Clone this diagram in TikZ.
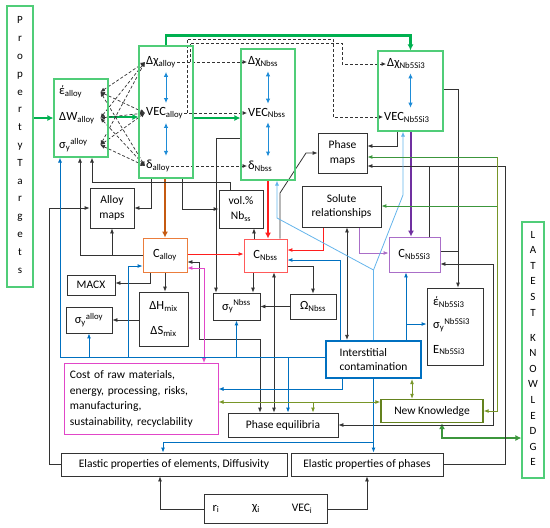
\documentclass[tikz,border=0pt]{standalone}
\usepackage{fontspec}
\setmainfont{Carlito}
\usetikzlibrary{arrows.meta,backgrounds}
\definecolor{gbord}{RGB}{80,205,120}
\definecolor{gthick}{RGB}{0,176,80}
\definecolor{orng}{RGB}{235,125,60}
\definecolor{brn}{RGB}{197,90,17}
\definecolor{rd}{RGB}{255,30,30}
\definecolor{rdb}{RGB}{255,90,90}
\definecolor{purp}{RGB}{112,48,160}
\definecolor{purpb}{RGB}{170,110,200}
\definecolor{mag}{RGB}{225,70,200}
\definecolor{blu}{RGB}{0,112,192}
\definecolor{bluem}{RGB}{30,140,215}
\definecolor{lblu}{RGB}{100,180,235}
\definecolor{oliv}{RGB}{120,150,40}
\definecolor{nkc}{RGB}{100,130,30}
\definecolor{grn}{RGB}{60,150,60}
\newcommand\sbx[1]{\textsubscript{#1}}
\newcommand\spx[1]{\textsuperscript{#1}}
\begin{document}
\begin{tikzpicture}[x=1pt,y=-1pt,
  font=\fontsize{11.5}{14.5}\selectfont,
  big/.style={font=\fontsize{12.5}{15}\selectfont},
  box/.style={draw=black!80, line width=0.8pt, fill=white, inner sep=1pt, align=center},
  gframe/.style={draw=gbord, line width=1.1pt},
  txt/.style={inner sep=1pt, anchor=west, big},
  txtL/.style={inner sep=1pt, anchor=west, text width=40pt, align=left, big},
  vtext/.style={inner sep=0pt, align=center, font=\fontsize{11}{17.8}\selectfont},
  conn/.style={draw=black!80, line width=0.8pt},
  arr/.style={conn, -{Latex[length=5pt,width=4pt]}},
  arr2/.style={conn, {Latex[length=5pt,width=4pt]}-{Latex[length=5pt,width=4pt]}},
  darr/.style={draw=black!80, line width=0.7pt, dash pattern=on 3pt off 2pt, -{Latex[length=4.5pt,width=4pt]}},
  ddarr/.style={draw=black!80, line width=0.7pt, dash pattern=on 3pt off 2pt, {Latex[length=4.5pt,width=4pt]}-{Latex[length=4.5pt,width=4pt]}},
  bdd/.style={draw=bluem, line width=1pt, {Latex[length=5pt,width=4.5pt]}-{Latex[length=5pt,width=4.5pt]}, shorten >=3pt, shorten <=3pt},
  tk/.style={line width=2.2pt, -{Latex[length=6pt,width=6pt]}},
  tk2/.style={line width=2.2pt, {Latex[length=6pt,width=6pt]}-{Latex[length=6pt,width=6pt]}},
  blarr/.style={draw=blu, line width=0.9pt, -{Latex[length=5pt,width=4pt]}},
  lbarr/.style={draw=lblu, line width=0.8pt, -{Latex[length=5pt,width=4pt]}},
  rarr/.style={draw=rd, line width=0.9pt, -{Latex[length=5pt,width=4pt]}},
  parr/.style={draw=purpb, line width=0.9pt, -{Latex[length=5pt,width=4pt,fill=purp]}},
  marr2/.style={draw=mag, line width=0.9pt, {Latex[length=5pt,width=4pt]}-{Latex[length=5pt,width=4pt]}},
  oarr/.style={draw=oliv, line width=0.9pt, -{Latex[length=5pt,width=4pt]}},
  o2arr/.style={draw=oliv, line width=0.9pt, {Latex[length=5pt,width=4pt]}-{Latex[length=5pt,width=4pt]}},
  grarr/.style={draw=grn, line width=0.9pt, -{Latex[length=5pt,width=4pt]}},
]
\useasboundingbox (0,0) rectangle (550,528);

% ---------- green frames ----------
\node[gframe, minimum width=26pt, minimum height=281pt] (PT) at (20,146.5) {};
\node[vtext] (ptt) at (20,145) {P\\r\\o\\p\\e\\r\\t\\y\\T\\a\\r\\g\\e\\t\\s};
\node[gframe, minimum width=54pt, minimum height=78pt] (alloyP) at (81,118) {};
\node[gframe, minimum width=54pt, minimum height=132pt] (alloyC) at (166,112) {};
\node[gframe, minimum width=54pt, minimum height=131pt] (nbss) at (268,114.5) {};
\node[gframe, minimum width=65pt, minimum height=80pt] (nb5) at (410.5,91) {};
\node[gframe, minimum width=22pt, minimum height=256pt] (LK) at (533,350) {};
\node[vtext, font=\fontsize{11}{15.6}\selectfont] (lk1) at (533,273.5) {L\\A\\T\\E\\S\\T};
\node[vtext, font=\fontsize{11}{15.6}\selectfont] (lk2) at (533,400) {K\\N\\O\\W\\L\\E\\D\\G\\E};

% texts inside frames
\node[txtL] (epsa) at (58,92) {έ\sbx{alloy}};
\node[txtL] (dwa) at (58,118) {ΔW\sbx{alloy}};
\node[txtL] (sya1) at (58,145) {σ\sbx{y}\spx{alloy}};
\node[txt] (dchia) at (145,62) {Δχ\sbx{alloy}};
\node[txt] (veca) at (145,113) {VEC\sbx{alloy}};
\node[txt] (dela) at (145,166) {δ\sbx{alloy}};
\node[txt] (dchin) at (247,62) {Δχ\sbx{Nbss}};
\node[txt] (vecn) at (247,113) {VEC\sbx{Nbss}};
\node[txt] (deln) at (247,166) {δ\sbx{Nbss}};
\node[txt] (dchin5) at (386,64) {Δχ\sbx{Nb5Si3}};
\node[txt] (vecn5) at (383,117) {VEC\sbx{Nb5Si3}};

% ---------- boxes ----------
\node[box, minimum width=49pt, minimum height=40pt] (pmaps) at (342.5,153) {Phase\\maps};
\node[box, minimum width=79pt, minimum height=41pt] (solute) at (341.5,206.5) {Solute\\relationships};
\node[box, minimum width=44pt, minimum height=40pt] (amaps) at (112,208) {Alloy\\maps};
\node[box, minimum width=44pt, minimum height=38pt] (vol) at (241,209) {vol.\%\\Nb\sbx{ss}};
\node[box, big, draw=orng, minimum width=44pt, minimum height=34pt] (calloy) at (165,255) {C\sbx{alloy}};
\node[box, big, draw=rdb, minimum width=43pt, minimum height=33pt] (cnbss) at (265.5,255.5) {C\sbx{Nbss}};
\node[box, big, draw=purpb, minimum width=51pt, minimum height=35pt] (cnb5) at (414.5,254.5) {C\sbx{Nb5Si3}};
\node[box, minimum width=48pt, minimum height=20pt] (macx) at (91,285) {MACX};
\node[box, big, minimum width=49pt, minimum height=54pt] (dh) at (163.5,319) {ΔH\sbx{mix}\\[10pt]ΔS\sbx{mix}};
\node[box, big, minimum width=46pt, minimum height=26pt] (sya) at (89,320) {σ\sbx{y}\spx{alloy}};
\node[box, big, minimum width=47pt, minimum height=27pt] (synb) at (236.5,306.5) {σ\sbx{y}\spx{Nbss}};
\node[box, big, minimum width=46pt, minimum height=25pt] (omega) at (313,306.5) {Ω\sbx{Nbss}};
\node[box, minimum width=56pt, minimum height=77pt] (props5) at (455,326.5) {};
\node[txt] (epsn5) at (432,302) {έ\sbx{Nb5Si3}};
\node[txt] (syn5) at (432,325) {σ\sbx{y}\spx{Nb5Si3}};
\node[txt] (en5) at (432,350) {E\sbx{Nb5Si3}};
\node[box, draw=blu, line width=2.2pt, minimum width=95pt, minimum height=37pt, align=left] (inter) at (373.5,359.5) {Interstitial\\contamination};
\node[box, draw=mag, line width=1pt, text width=142pt, minimum height=71pt, inner xsep=6pt, align=left, font=\fontsize{11.5}{15.7}\selectfont] (cost) at (141,399) {Cost of raw materials,\\energy, processing, risks,\\manufacturing,\\sustainability, recyclability};
\node[box, minimum width=110pt, minimum height=24pt] (peq) at (283,425) {Phase equilibria};
\node[box, draw=nkc, line width=1.3pt, minimum width=102pt, minimum height=23pt] (nk) at (432,411) {New Knowledge};
\node[box, minimum width=226pt, minimum height=23pt] (ele) at (174,464.5) {Elastic properties of elements, Diffusivity};
\node[box, minimum width=152pt, minimum height=23pt] (elp) at (367,464.5) {Elastic properties of phases};
\node[box, minimum width=123pt, minimum height=29pt] (ri) at (265.5,509) {};
\node[big] (rr) at (216,509) {r\sbx{i}};
\node[big] (rc) at (256,509) {χ\sbx{i}};
\node (rv) at (302,509) {VEC\sbx{i}};

% ---------- connectors ----------
\begin{scope}[on background layer]
% thick
\draw[tk, draw=gthick] (PT.east |- alloyP.west) -- (alloyP.west);
\draw[tk, draw=gthick] (alloyP.east |- 0,117) -- (alloyC.west |- 0,117);
\draw[tk, draw=gthick] (alloyC.east |- 0,118) -- (nbss.west |- 0,118);
\draw[tk, draw=gthick] (alloyC.north) -- ++(0,-10) -| (nb5.north);
\draw[tk, draw=brn] (alloyC.south -| calloy.north) -- (calloy.north);
\draw[tk, draw=rd] (nbss.south) -- (cnbss.north -| nbss.south);
\draw[tk, draw=purp] (nb5.south -| 411,0) -- (cnb5.north -| 411,0);
\draw[tk2, draw=grn] (nk.south -| 442,0) |- (LK.west |- 0,438);

% dashed
\foreach \a in {epsa,dwa,sya1} \foreach \b in {dchia,veca,dela} \draw[ddarr] (\a.east) -- (\b.west);
\draw[darr] (dchia.east) -- (dchin.west);
\draw[darr] (veca.east) -- (vecn.west);
\draw[darr] (dela.east) -- (deln.west);
\draw[darr] (veca.east -| 187,0) |- (333,39) |- (vecn5.west);
\draw[darr] (dchia.east -| 190,0) |- (342,43) |- (dchin5.west);

% blue inside frames
\draw[bdd] (dchia.south -| alloyC.center) -- (veca.north -| alloyC.center);
\draw[bdd] (veca.south -| alloyC.center) -- (dela.north -| alloyC.center);
\draw[bdd] (dchin.south -| nbss.center) -- (vecn.north -| nbss.center);
\draw[bdd] (vecn.south -| nbss.center) -- (deln.north -| nbss.center);
\draw[bdd] (dchin5.south -| nb5.center) -- (vecn5.north -| nb5.center);

% black
\draw[arr] (vol.north -| 230,0) |- (92,182) -- (alloyP.south -| 92,0);
\draw[arr] (calloy.west) -| (alloyP.south -| 80,0);
\draw[arr] (amaps.south |- calloy.west) -- (amaps.south);
\draw[arr] (alloyC.south -| 151,0) |- (amaps.east);
\draw[arr] (ele.west) -- ++(-11,0) |- (amaps.west);
\draw[arr] (alloyC.south -| 182,0) |- (vol.west);
\draw[arr] (nbss.west |- 0,138) -| (synb.north -| 216,0);
\draw[arr] (cnbss.north -| 254,0) -- (vol.south -| 254,0);
\draw[arr] (cnbss.south -| 253,0) -- (synb.north -| 253,0);
\draw[arr] (cnbss.east |- 0,266) -| (omega.north);
\draw[arr] (omega.west) -- (synb.east);
\draw[arr] (cnbss.north -| 280,0) -- (280,193) -- (306,153) -- (pmaps.west);
\draw[arr] (nb5.south -| 397,0) |- (pmaps.east |- 0,146);
\draw[arr] (cnb5.north -| 429,0) |- (pmaps.east |- 0,166);
\draw[conn] (elp.east) -| (505,166) -- (429,166);
\draw[arr] (nb5.east |- 0,89) -| (props5.north -| 458,0);
\draw[conn] (cnb5.east |- 0,251) -- (458,251);
\draw[arr2] (peq.east) -| (493,264) -- (cnb5.east |- 0,264);
\draw[arr2] (solute.south -| 347,0) -- (inter.north -| 347,0);
\draw[arr] (calloy.south -| 150,0) |- (macx.east |- 0,283);
\draw[arr] (calloy.south -| 165,0) -- (dh.north -| 165,0);
\draw[arr] (dh.west |- 0,320) -- (sya.east);
\draw[arr2] (calloy.east |- 0,262) -| (199,339) -| (peq.north -| 260,0);
\draw[arr2] (cnbss.south -| 274,0) -- (peq.north -| 274,0);
\draw[arr] (ri.west) -| (ele.south -| 160,0);
\draw[arr] (ri.east) -| (elp.south);

% red / purple / magenta
\draw[rarr] (calloy.east |- 0,254) -- (cnbss.west |- 0,254);
\draw[rarr] (solute.south -| 323,0) |- (cnbss.east |- 0,250);
\draw[parr] (solute.south -| 359,0) |- (cnb5.west |- 0,253);
\draw[marr2] (calloy.east |- 0,268) -| (cost.north -| 204,0);

% blue
\draw[blarr] (inter.west |- 0,357) -| (alloyP.south -| 60,0);
\draw[blarr] (sya.south |- 0,357) -- (sya.south);
\draw[blarr] (128,357) |- (calloy.west |- 0,266);
\draw[blarr] (synb.south |- 0,357) -- (synb.south);
\draw[blarr] (288,357) -- (peq.north -| 288,0);
\draw[blarr] (inter.north -| 340,0) |- (cnbss.east |- 0,260);
\draw[blarr] (inter.south -| 342,0) |- (cost.east |- 0,389);
\draw[blarr] (inter.south) -- (elp.north -| inter.south);
\draw[blarr] (inter.south |- 0,442) -| (ele.north -| 163,0);
\draw[blarr] (inter.north -| 406,0) -- (cnb5.south -| 406,0);
\draw[blarr] (406,324) -- (props5.west |- 0,324);
\draw[lbarr] (inter.north) -- (373.5,270) -- (277,218) -- (nbss.south -| 277,0);
\draw[lbarr] (373.5,270) -- (403,195) -- (nb5.south -| 403,0);

% olive / green
\draw[o2arr] (inter.south -| 412,0) -- (nk.north -| 412,0);
\draw[o2arr] (cost.east |- 0,402) -- (nk.west |- 0,402);
\draw[oarr] (313,402) -- (peq.north -| 313,0);
\draw[oarr] (497,157) |- (nk.east);
\draw[grarr] (497,157) -- (pmaps.east |- 0,157);
\draw[grarr] (497,206) -- (solute.east |- 0,206);
\end{scope}
\end{tikzpicture}
\end{document}
